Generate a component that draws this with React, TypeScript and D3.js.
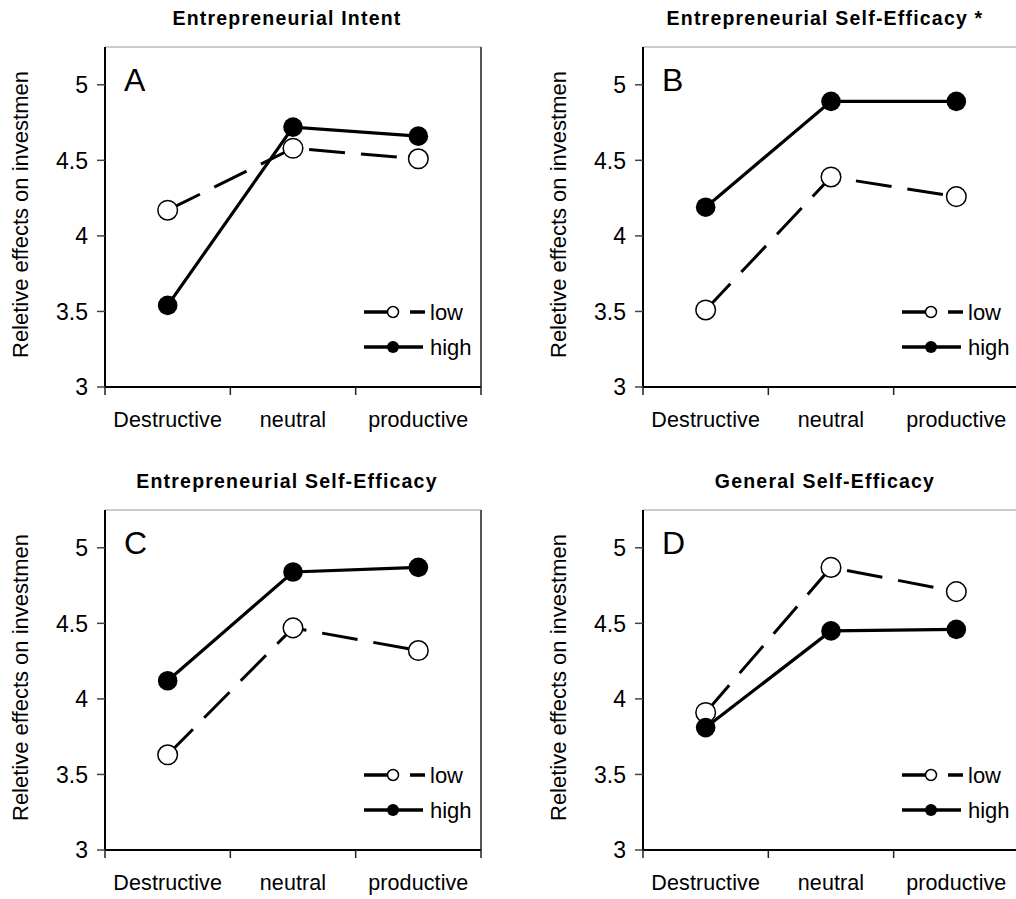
import React from 'react';
import * as d3 from 'd3';

const categories = ['Destructive', 'neutral', 'productive'];
const yTicks = [3, 3.5, 4, 4.5, 5];
const yTickLabels = ['3', '3.5', '4', '4.5', '5'];
const seriesNames = ['low', 'high'];
const panelTitles = [
  'Entrepreneurial Intent',
  'Entrepreneurial Self-Efficacy *',
  'Entrepreneurial Self-Efficacy',
  'General Self-Efficacy',
];
const panelLetters = ['A', 'B', 'C', 'D'];
const yAxisLabel = 'Reletive effects on investmen';

const lowA = [4.17, 4.58, 4.51];
const highA = [3.54, 4.72, 4.66];
const lowB = [3.51, 4.39, 4.26];
const highB = [4.19, 4.89, 4.89];
const lowC = [3.63, 4.47, 4.32];
const highC = [4.12, 4.84, 4.87];
const lowD = [3.91, 4.87, 4.71];
const highD = [3.81, 4.45, 4.46];

const FONT = 'Liberation Sans, Arial, Helvetica, sans-serif';
const W = 376;
const H = 340;
const panelLefts = [105, 643];
const panelTops = [47, 510];

const xScale = d3.scaleBand<string>().domain(categories).range([0, W]);
const yScale = d3.scaleLinear().domain([3, 5.25]).range([H, 0]);
const cx = (c: string) => (xScale(c) as number) + xScale.bandwidth() / 2;

const lineGen = d3
  .line<number>()
  .x((_, i) => cx(categories[i]))
  .y((d) => yScale(d));

function Panel({ left, top, title, letter, low, high }: any) {
  const edges = [0, ...categories.map((c) => (xScale(c) as number) + xScale.bandwidth())];
  const lx = W - 117;
  const rows = [H - 75, H - 40];
  return (
    <g transform={`translate(${left},${top})`}>
      <text x={W / 2 - 6} y={-22} textAnchor="middle" fontFamily={FONT} fontWeight="bold" fontSize={19.5} letterSpacing={1.2} fill="#000">
        {title}
      </text>
      {/* frame */}
      <line x1={0} y1={0} x2={W} y2={0} stroke="#999" strokeWidth={1.2} />
      <line x1={W} y1={0} x2={W} y2={H} stroke="#555" strokeWidth={2} />
      <line x1={0} y1={0} x2={0} y2={H} stroke="#000" strokeWidth={2} />
      <line x1={0} y1={H} x2={W} y2={H} stroke="#000" strokeWidth={2} />
      {/* y ticks */}
      {yTicks.map((t, i) => (
        <g key={t}>
          <line x1={-8} x2={0} y1={yScale(t)} y2={yScale(t)} stroke="#444" strokeWidth={1.5} />
          <text x={-17} y={yScale(t)} dy="0.36em" textAnchor="end" fontFamily={FONT} fontSize={23} fill="#000">
            {yTickLabels[i]}
          </text>
        </g>
      ))}
      {/* x ticks */}
      {edges.map((e, i) => (
        <line key={i} x1={e} x2={e} y1={H} y2={H + 8} stroke="#222" strokeWidth={1.5} />
      ))}
      {categories.map((c) => (
        <text key={c} x={cx(c)} y={H + 40} textAnchor="middle" fontFamily={FONT} fontSize={21.5} letterSpacing={0.1} fill="#000">
          {c}
        </text>
      ))}
      <text
        transform={`translate(-77,${H - 29}) rotate(-90)`}
        textAnchor="start"
        fontFamily={FONT}
        fontSize={22}
        fill="#000"
      >
        {yAxisLabel}
      </text>
      <text x={19} y={44} fontFamily={FONT} fontSize={32} fill="#000">
        {letter}
      </text>
      {/* low series */}
      <path d={lineGen(low) as string} fill="none" stroke="#000" strokeWidth={3} strokeDasharray="36 16" />
      {low.map((v: number, i: number) => (
        <circle key={'l' + i} cx={cx(categories[i])} cy={yScale(v)} r={9.8} fill="#fff" stroke="#000" strokeWidth={1.5} />
      ))}
      {/* high series */}
      <path d={lineGen(high) as string} fill="none" stroke="#000" strokeWidth={3.2} />
      {high.map((v: number, i: number) => (
        <circle key={'h' + i} cx={cx(categories[i])} cy={yScale(v)} r={9.8} fill="#000" />
      ))}
      {/* legend */}
      <g>
        <line x1={lx} x2={lx + 61} y1={rows[0]} y2={rows[0]} stroke="#000" strokeWidth={3.5} strokeDasharray="24 22" />
        <circle cx={lx + 29} cy={rows[0]} r={5.5} fill="#fff" stroke="#000" strokeWidth={1.5} />
        <text x={lx + 66} y={rows[0]} dy="0.36em" fontFamily={FONT} fontSize={22} fill="#000">
          {seriesNames[0]}
        </text>
        <line x1={lx} x2={lx + 59} y1={rows[1]} y2={rows[1]} stroke="#000" strokeWidth={3.5} />
        <circle cx={lx + 29} cy={rows[1]} r={6} fill="#000" />
        <text x={lx + 66} y={rows[1]} dy="0.36em" fontFamily={FONT} fontSize={22} fill="#000">
          {seriesNames[1]}
        </text>
      </g>
    </g>
  );
}

export default function App() {
  const lows = [lowA, lowB, lowC, lowD];
  const highs = [highA, highB, highC, highD];
  return (
    <svg
      width={1016}
      height={899}
      style={{ position: 'absolute', left: 0, top: 0, background: '#fff' }}
    >
      <rect x={0} y={0} width={1016} height={899} fill="#fff" />
      {panelTitles.map((t, i) => (
        <Panel
          key={i}
          left={panelLefts[i % 2]}
          top={panelTops[Math.floor(i / 2)]}
          title={t}
          letter={panelLetters[i]}
          low={lows[i]}
          high={highs[i]}
        />
      ))}
    </svg>
  );
}
